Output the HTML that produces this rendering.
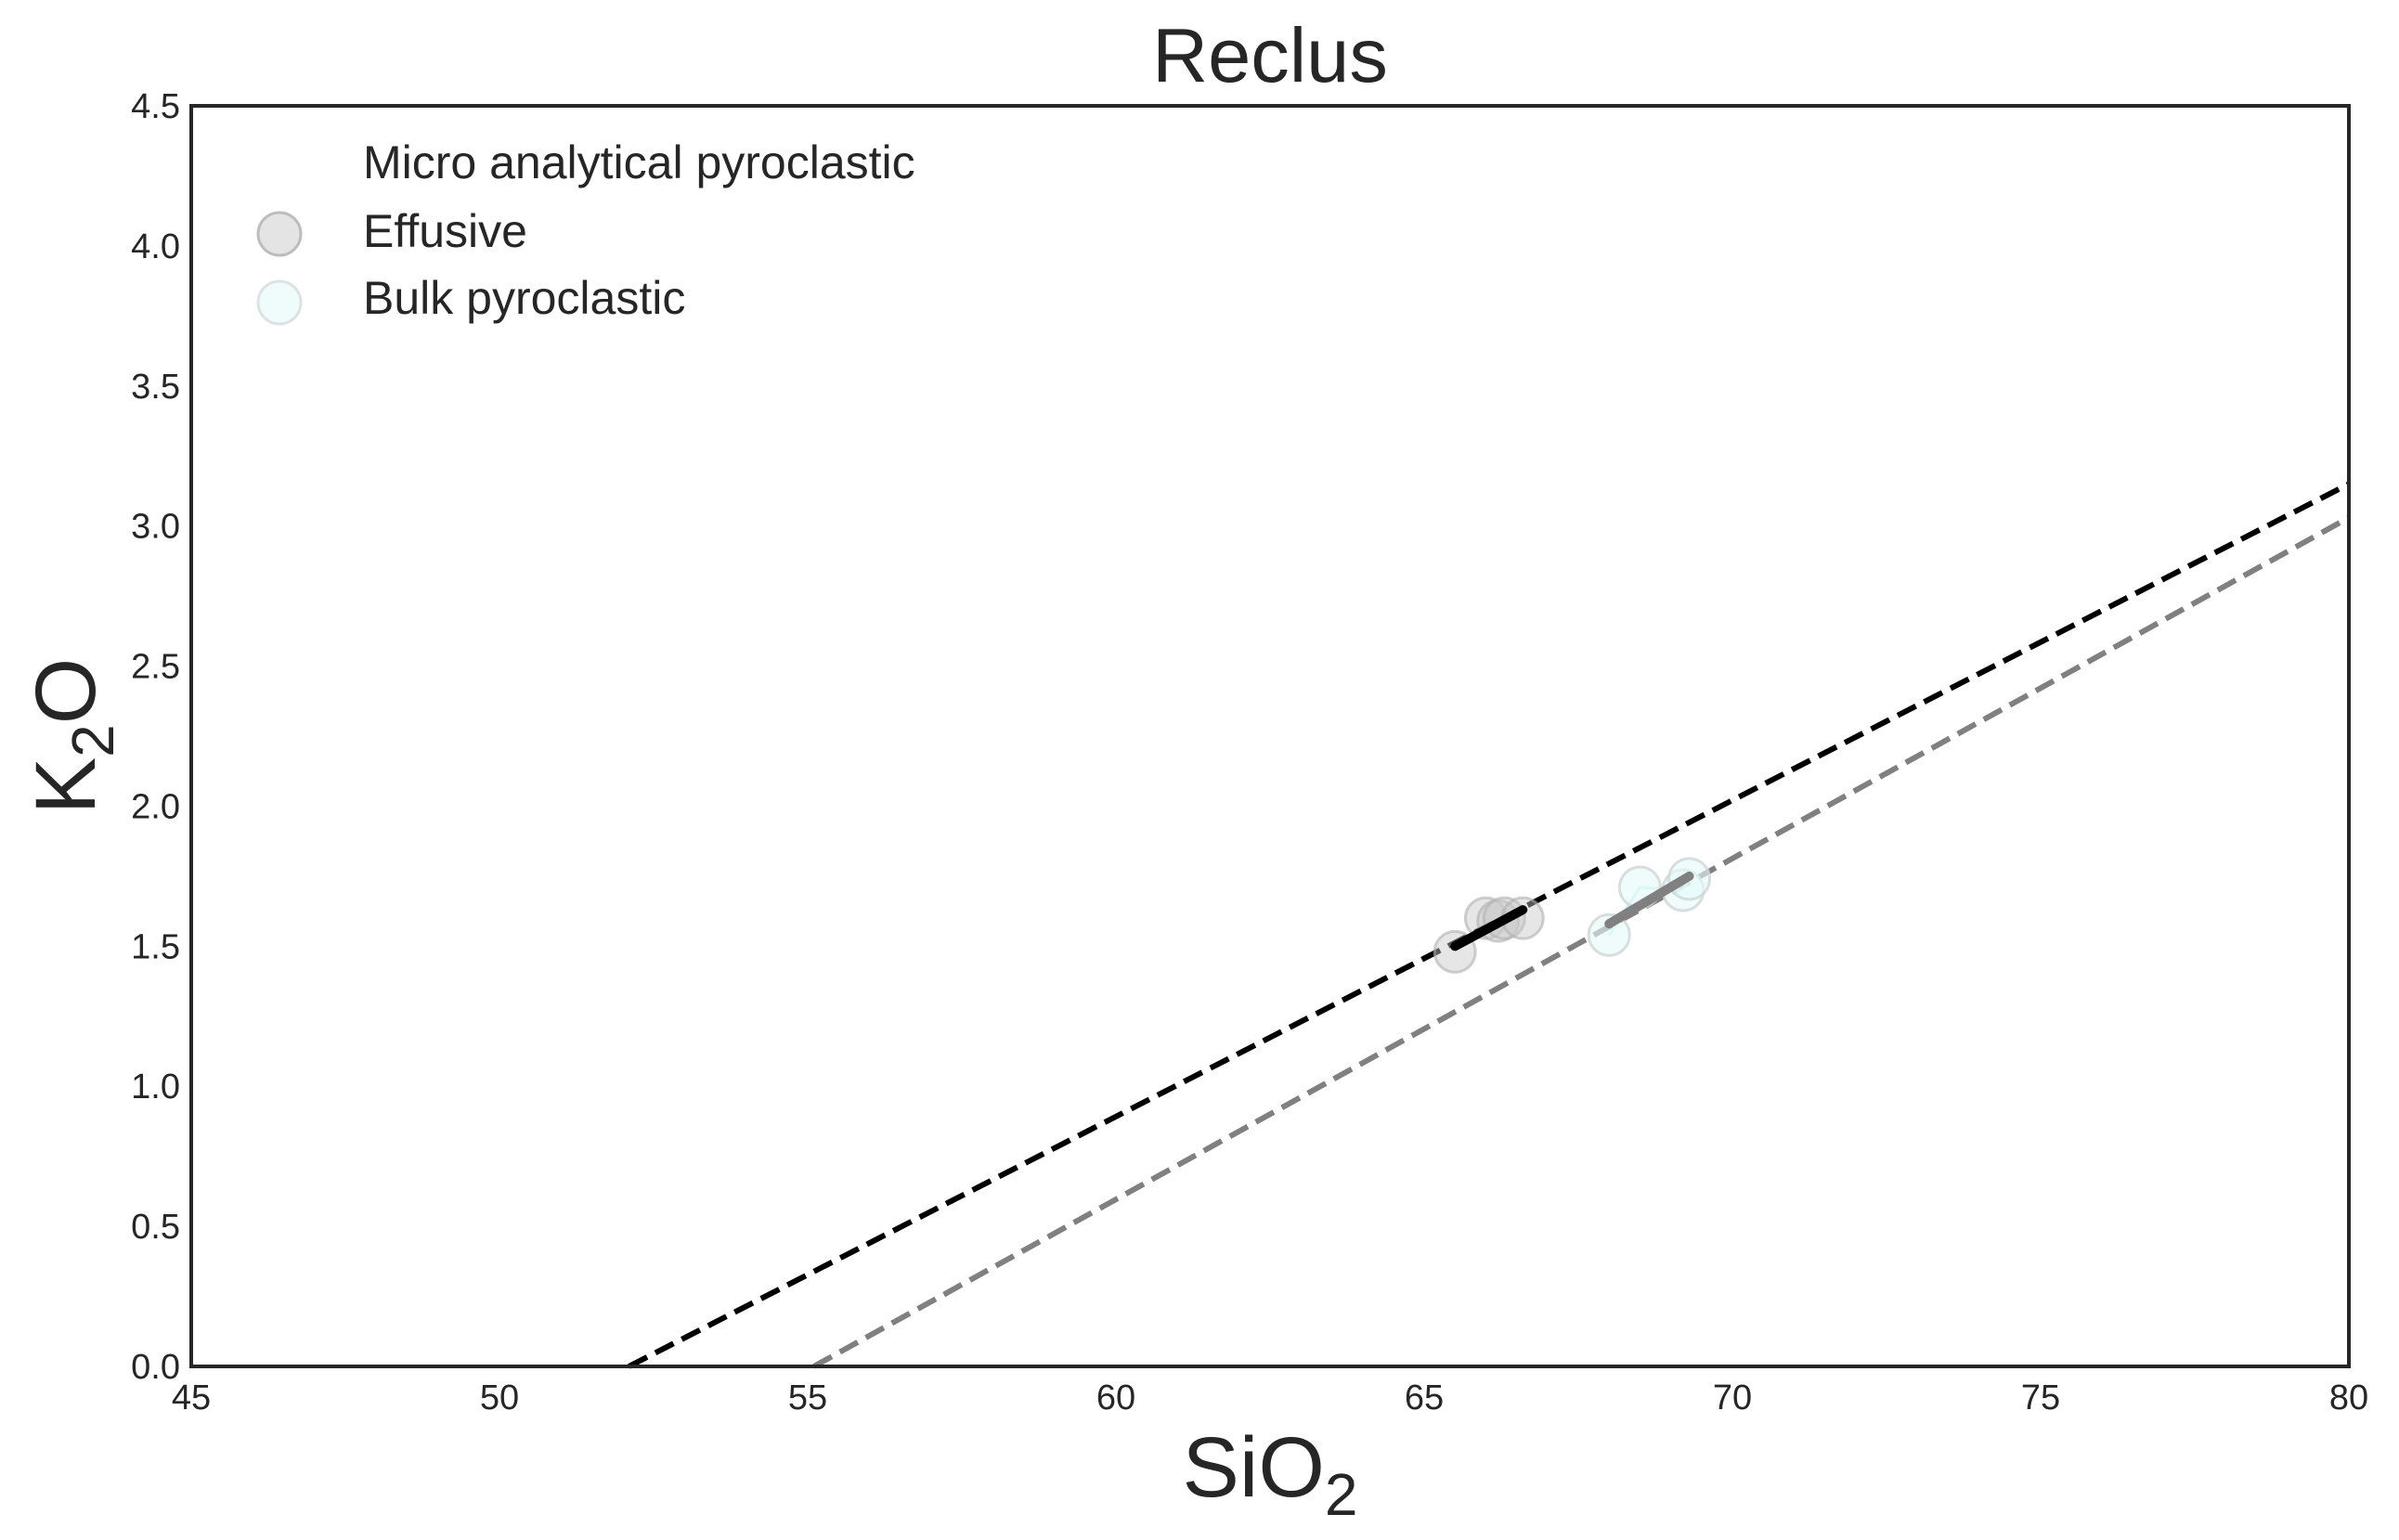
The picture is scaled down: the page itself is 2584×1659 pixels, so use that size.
<!DOCTYPE html>
<html><head><meta charset="utf-8"><style>
html,body{margin:0;padding:0;background:#fff;}
svg{display:block;font-family:"Liberation Sans",sans-serif;}
</style></head><body>
<svg id="chart" width="2584" height="1659" viewBox="0 0 2584 1659">
<rect width="2584" height="1659" fill="#fff"/>
<text x="1368" y="88" font-size="83" text-anchor="middle" fill="#262626">Reclus</text>
<g id="ticks"></g>
<g id="plot"></g>
<rect x="206" y="114" width="2324" height="1358" fill="none" stroke="#262626" stroke-width="4"/>
<text x="1368" y="1612" font-size="92" text-anchor="middle" fill="#262626">SiO<tspan font-size="64" dy="20">2</tspan></text>
<text transform="translate(102,793) rotate(-90)" font-size="92" text-anchor="middle" fill="#262626">K<tspan font-size="64" dy="20">2</tspan><tspan dy="-20">O</tspan></text>
<g>
<text x="391" y="192" font-size="50" fill="#262626">Micro analytical pyroclastic</text>
<circle cx="301" cy="252" r="23" fill="#d9d9d9" fill-opacity="0.7" stroke="#bdbdbd" stroke-width="3"/>
<text x="391" y="266" font-size="50" fill="#262626">Effusive</text>
<circle cx="301" cy="326" r="23" fill="#f0fcfc" stroke="#dde3e3" stroke-width="3"/>
<text x="391" y="338" font-size="50" fill="#262626">Bulk pyroclastic</text>
</g>
</svg>
<script>
const xTicks = [45,50,55,60,65,70,75,80];
const yTicks = [0.0,0.5,1.0,1.5,2.0,2.5,3.0,3.5,4.0,4.5];
const effusiveX = [65.5,66.0,66.2,66.3,66.6];
const effusiveY = [1.48,1.60,1.59,1.60,1.60];
const bulkX = [68.0,68.5,69.2,69.3];
const bulkY = [1.54,1.71,1.70,1.74];
const effusiveTrendX = [52.1,80];
const effusiveTrendY = [0,3.15];
const bulkTrendX = [55.1,80];
const bulkTrendY = [0,3.03];
const effusiveFitX = [65.5,66.6];
const effusiveFitY = [1.50,1.63];
const bulkFitX = [68.0,69.3];
const bulkFitY = [1.58,1.75];

const NS="http://www.w3.org/2000/svg";
const L=206,R=2530,T=114,B=1472;
const sx=v=>L+(v-45)/(80-45)*(R-L);
const sy=v=>B-(v-0)/(4.5-0)*(B-T);
function mk(tag,attrs,parent){const e=document.createElementNS(NS,tag);for(const k in attrs)e.setAttribute(k,attrs[k]);parent.appendChild(e);return e;}
const ticks=document.getElementById('ticks');
const plot=document.getElementById('plot');
xTicks.forEach(v=>{const t=mk('text',{x:sx(v),y:B+46,'font-size':38,'text-anchor':'middle',fill:'#262626'},ticks);t.textContent=v;

});
yTicks.forEach(v=>{const t=mk('text',{x:L-12,y:sy(v)+13,'font-size':38,'text-anchor':'end',fill:'#262626'},ticks);t.textContent=v.toFixed(1);

});
function line(xs,ys,attrs,name){const e=mk('polyline',Object.assign({points:xs.map((x,i)=>sx(x)+','+sy(ys[i])).join(' '),fill:'none'},attrs),plot);

}
line(effusiveTrendX,effusiveTrendY,{stroke:'#000','stroke-width':6,'stroke-dasharray':'22 10'},'effusive-trend-line');
line(bulkTrendX,bulkTrendY,{stroke:'#808080','stroke-width':6,'stroke-dasharray':'22 10'},'bulk-trend-line');
line(bulkX,bulkY,{stroke:'#aeeeee','stroke-width':3,'stroke-opacity':0.7},'bulk-connector-line');
effusiveX.forEach((x,i)=>{const c=mk('circle',{cx:sx(x),cy:sy(effusiveY[i]),r:22,fill:'#c8c8c8','fill-opacity':0.45,stroke:'#b0b0b0','stroke-opacity':0.6,'stroke-width':3},plot);

});
bulkX.forEach((x,i)=>{const c=mk('circle',{cx:sx(x),cy:sy(bulkY[i]),r:22,fill:'#e6fafa','fill-opacity':0.6,stroke:'#cfd6d6','stroke-opacity':0.8,'stroke-width':3},plot);

});
line(effusiveFitX,effusiveFitY,{stroke:'#000','stroke-width':10,'stroke-linecap':'round'},'effusive-fit-line');
line(bulkFitX,bulkFitY,{stroke:'#808080','stroke-width':10,'stroke-linecap':'round'},'bulk-fit-line');
</script>
</body></html>
